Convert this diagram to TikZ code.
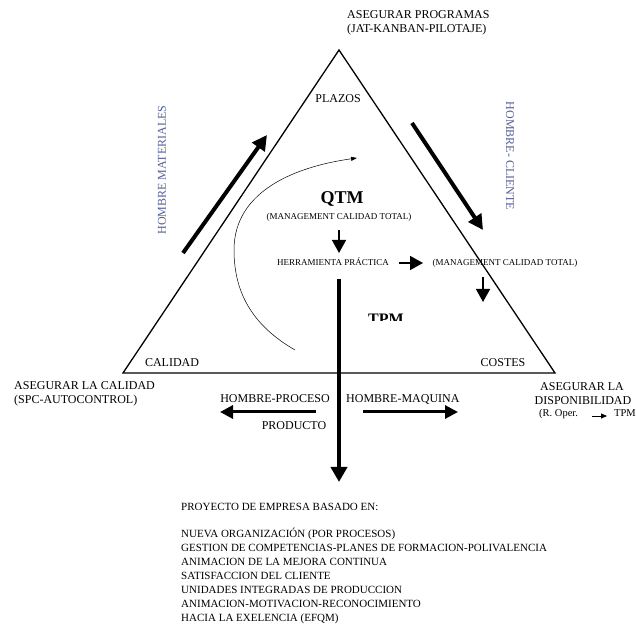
\documentclass[tikz,border=0pt]{standalone}
\usepackage{fontspec}
\setmainfont{Liberation Serif}
\usetikzlibrary{arrows.meta}
\definecolor{wordart}{RGB}{85,95,150}
\begin{document}
\begin{tikzpicture}[x=1pt,y=1pt,
  lbl/.style={font=\fontsize{12}{14}\selectfont, inner sep=0pt, text height=7.9pt, text depth=0pt},
  listline/.style={font=\fontsize{11}{13}\selectfont, inner sep=0pt, text height=7.3pt, text depth=0pt, anchor=west},
  tiny/.style={font=\fontsize{9}{11}\selectfont, inner sep=0pt, text height=6pt, text depth=0pt},
  rotlbl/.style={lbl, text=wordart},
  big/.style={font=\fontsize{18}{20}\selectfont\bfseries, inner sep=0pt},
  edge/.style={line width=1.3pt, line join=miter},
  fatarrow/.style={line width=4pt, -{Triangle[length=15pt,width=15pt]}},
  midarrow/.style={line width=3pt, -{Triangle[length=13pt,width=13pt]}},
  smallarrow/.style={line width=1.5pt, -{Triangle[length=13pt,width=14pt]}},
  thinarrow/.style={line width=0.5pt, -{Triangle[length=6pt,width=4pt]}},
]
\useasboundingbox (0,0) rectangle (636,623);

% triangle
\coordinate (apex) at (339,573);
\coordinate (bl) at (123,250);
\coordinate (br) at (555,250);
\draw[edge] (apex) -- (bl) -- (br) -- cycle;

% corner labels
\node[lbl, anchor=west] (prog1) at (347,608) {ASEGURAR PROGRAMAS};
\node[lbl, anchor=west] (prog2) at (347,594) {(JAT-KANBAN-PILOTAJE)};
\node[lbl] (plazos) at (338,524) {PLAZOS};
\node[lbl] (calidad) at (172,260) {CALIDAD};
\node[lbl] (costes) at (503,260) {COSTES};
\node[lbl, anchor=west] (asegcal1) at (14,237) {ASEGURAR LA CALIDAD};
\node[lbl, anchor=west] (asegcal2) at (14,223) {(SPC-AUTOCONTROL)};
\node[lbl] (asegdis1) at (582,236) {ASEGURAR LA};
\node[lbl] (asegdis2) at (583,222) {DISPONIBILIDAD};
\node[lbl, font=\fontsize{10.5}{12}\selectfont, anchor=west] (roper) at (539,210) {(R. Oper.};
\node[lbl, font=\fontsize{10.5}{12}\selectfont, anchor=east] (rtpm) at (636,210) {TPM};
\coordinate (ra0) at (592,207);
\coordinate (ra1) at (607,207);
\draw[line width=0.8pt, -{Triangle[length=6pt,width=5pt]}] (ra0) -- (ra1);

% side flows
\node[rotlbl, rotate=90] (hmat) at (162,453) {HOMBRE MATERIALES};
\node[rotlbl, rotate=-90] (hcli) at (510,467) {HOMBRE- CLIENTE};
\coordinate (la0) at (183,370);
\coordinate (la1) at (267,488);
\draw[fatarrow] (la0) -- (la1);
\coordinate (rr0) at (412,500);
\coordinate (rr1) at (483,393);
\draw[fatarrow] (rr0) -- (rr1);

% cycle arc
\coordinate (arc0) at (295,273);
\coordinate (arc1) at (234,373);
\coordinate (arc2) at (357,465);
\draw[thinarrow] (arc0) to[out=150,in=-90] (arc1) to[out=90,in=188] (arc2);

% centre
\node[big] (qtm) at (342,424) {QTM};
\node[tiny] (mct1) at (339,406) {(MANAGEMENT CALIDAD TOTAL)};
\coordinate (q0) at (339,393);
\coordinate (q1) at (339,370);
\draw[smallarrow] (q0) -- (q1);
\node[tiny] (herr) at (333,360) {HERRAMIENTA PRÁCTICA};
\coordinate (h0) at (399,360);
\coordinate (h1) at (423,360);
\draw[smallarrow] (h0) -- (h1);
\node[tiny] (mct2) at (505,360) {(MANAGEMENT CALIDAD TOTAL)};
\coordinate (m0) at (483,346);
\coordinate (m1) at (483,321);
\draw[smallarrow] (m0) -- (m1);
\begin{scope}
  \clip (360,302) rectangle (420,330);
  \node[big, font=\fontsize{16}{18}\selectfont\bfseries, anchor=base] (tpm) at (386,298.4) {TPM};
\end{scope}

% main vertical flow
\coordinate (v0) at (339,344);
\coordinate (v1) at (339,141);
\draw[fatarrow, -{Triangle[length=15pt,width=16pt]}] (v0) -- (v1);
\coordinate (lh0) at (316,211);
\coordinate (lh1) at (220,211);
\draw[midarrow] (lh0) -- (lh1);
\coordinate (rh0) at (363,211);
\coordinate (rh1) at (458,211);
\draw[midarrow] (rh0) -- (rh1);
\node[lbl] (hproc) at (275,224) {HOMBRE-PROCESO};
\node[lbl, anchor=west] (hmaq) at (346,224) {HOMBRE-MAQUINA};
\node[lbl] (prod) at (294,197) {PRODUCTO};

% project list
\node[listline] (proy) at (181,116) {PROYECTO DE EMPRESA BASADO EN:};
\node[listline] (l1) at (181,89) {NUEVA ORGANIZACIÓN (POR PROCESOS)};
\node[listline] (l2) at (181,75) {GESTION DE COMPETENCIAS-PLANES DE FORMACION-POLIVALENCIA};
\node[listline] (l3) at (181,61) {ANIMACION DE LA MEJORA CONTINUA};
\node[listline] (l4) at (181,47) {SATISFACCION DEL CLIENTE};
\node[listline] (l5) at (181,33) {UNIDADES INTEGRADAS DE PRODUCCION};
\node[listline] (l6) at (181,19) {ANIMACION-MOTIVACION-RECONOCIMIENTO};
\node[listline] (l7) at (181,5) {HACIA LA EXELENCIA (EFQM)};
\end{tikzpicture}
\end{document}
